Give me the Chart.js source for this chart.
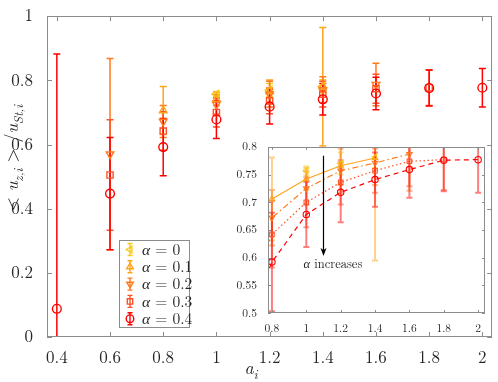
<!DOCTYPE html>
<html>
<head>
<meta charset="utf-8">
<script src="https://cdn.jsdelivr.net/npm/chart.js@4/dist/chart.umd.min.js"></script>
<style>
body { margin: 0; background: #fff; }
#wrap { position: relative; width: 498px; height: 382px; }
#main { position: absolute; left: 0; top: 0; }
#inset { position: absolute; left: 236px; top: 137px; }
</style>
</head>
<body>
<div id="wrap">
  <canvas id="main" width="498" height="382"></canvas>
  <canvas id="inset" width="256" height="200"></canvas>
</div>
<script>
// ---- data ----
const alphaLabels = ['0', '0.1', '0.2', '0.3', '0.4'];

// alpha = 0
const xA0 = [1.0, 1.2, 1.4];
const yA0 = [0.757, 0.770, 0.782];
const eA0 = [0.008, 0.02, 0.02];
// alpha = 0.1
const xA1 = [0.8, 1.0, 1.2, 1.4];
const yA1 = [0.706, 0.742, 0.766, 0.780];
const eA1 = [0.075, 0.02, 0.035, 0.185];
// alpha = 0.2
const xA2 = [0.6, 0.8, 1.0, 1.2, 1.4, 1.6];
const yA2 = [0.570, 0.672, 0.725, 0.757, 0.771, 0.787];
const eA2 = [0.298, 0.05, 0.03, 0.04, 0.04, 0.066];
// alpha = 0.3
const xA3 = [0.6, 0.8, 1.0, 1.2, 1.4, 1.6, 1.8];
const yA3 = [0.505, 0.642, 0.700, 0.736, 0.757, 0.774, 0.777];
const eA3 = [0.172, 0.06, 0.045, 0.04, 0.04, 0.045, 0.055];
// alpha = 0.4
const xA4 = [0.4, 0.6, 0.8, 1.0, 1.2, 1.4, 1.6, 1.8, 2.0];
const yA4 = [0.088, 0.447, 0.592, 0.678, 0.718, 0.741, 0.759, 0.776, 0.777];
const eA4 = [0.794, 0.175, 0.089, 0.059, 0.054, 0.049, 0.051, 0.056, 0.06];

// tick labels
const xTicksMain = [0.4, 0.6, 0.8, 1, 1.2, 1.4, 1.6, 1.8, 2];
const yTicksMain = [0, 0.2, 0.4, 0.6, 0.8, 1];
const xTicksInset = [0.8, 1, 1.2, 1.4, 1.6, 1.8, 2];
const yTicksInset = [0.5, 0.55, 0.6, 0.65, 0.7, 0.75, 0.8];

// ---- styles ----
const FONT = '"Latin Modern Roman"';
const COLORS = ['#F8C81A', '#FFA31C', '#FF7A1E', '#FF5226', '#FF0000'];
const MARKERS = [
    { style: 'triangle', rot: -90 },
    { style: 'triangle', rot: 0 },
    { style: 'triangle', rot: 180 },
    { style: 'rect', rot: 0 },
    { style: 'circle', rot: 0 }
];
const DASHES = [[], [], [6, 3, 1.5, 3], [1.5, 2.5], [5, 4]];
const AXIS_COLOR = '#8c8c8c';
const TEXT_COLOR = '#262626';

const series = [
    { x: xA0, y: yA0, e: eA0 },
    { x: xA1, y: yA1, e: eA1 },
    { x: xA2, y: yA2, e: eA2 },
    { x: xA3, y: yA3, e: eA3 },
    { x: xA4, y: yA4, e: eA4 }
];

function makeDatasets(inset) {
    return series.map((s, k) => ({
        label: 'α = ' + alphaLabels[k],
        data: s.x.map((v, i) => ({ x: v, y: s.y[i] })),
        errors: s.e,
        errColor: COLORS[k],
        borderColor: COLORS[k],
        backgroundColor: 'rgba(0,0,0,0)',
        pointStyle: MARKERS[k].style,
        rotation: MARKERS[k].rot,
        pointRadius: inset ? 3.2 : 4.4,
        pointBorderWidth: inset ? 1.1 : 1.4,
        showLine: inset && k > 0,
        borderDash: DASHES[k],
        borderWidth: 1.2,
        order: 4 - k
    }));
}

function fmt(v) {
    return String(+Number(v).toFixed(2));
}

// draw text with italic / subscript parts
function drawMath(ctx, parts, x, y, size, align) {
    const fontOf = p => (p.it ? 'italic ' : '') + (p.sub ? size * 0.7 : size) + 'px ' + FONT;
    let w = 0;
    parts.forEach(p => { ctx.font = fontOf(p); w += ctx.measureText(p.t).width; });
    let cx = align === 'center' ? x - w / 2 : x;
    ctx.textAlign = 'left';
    parts.forEach(p => {
        ctx.font = fontOf(p);
        ctx.fillText(p.t, cx, y + (p.sub ? size * 0.28 : 0));
        cx += ctx.measureText(p.t).width;
    });
}

function drawMarker(ctx, style, rot, x, y, r) {
    ctx.beginPath();
    if (style === 'circle') {
        ctx.arc(x, y, r, 0, Math.PI * 2);
    } else if (style === 'rect') {
        const s = r * Math.SQRT1_2;
        ctx.rect(x - s, y - s, 2 * s, 2 * s);
    } else {
        let a = rot * Math.PI / 180;
        ctx.moveTo(x + Math.sin(a) * r, y - Math.cos(a) * r);
        for (let k = 1; k < 3; k++) {
            a += 2 * Math.PI / 3;
            ctx.lineTo(x + Math.sin(a) * r, y - Math.cos(a) * r);
        }
        ctx.closePath();
    }
    ctx.stroke();
}

// ---- plugins ----
const whiteArea = {
    id: 'whiteArea',
    beforeDraw(chart) {
        const a = chart.chartArea;
        chart.ctx.save();
        chart.ctx.fillStyle = '#fff';
        chart.ctx.fillRect(a.left, a.top, a.width, a.height);
        chart.ctx.restore();
    }
};

const errorBars = {
    id: 'errorBars',
    beforeDatasetsDraw(chart, args, o) {
        const { ctx, chartArea: a, scales: { x, y } } = chart;
        ctx.save();
        ctx.beginPath();
        ctx.rect(a.left, a.top, a.width, a.height);
        ctx.clip();
        ctx.lineWidth = o.width;
        ctx.globalAlpha = o.alpha;
        chart.data.datasets.forEach(ds => {
            ctx.strokeStyle = ds.errColor;
            ds.data.forEach((p, i) => {
                const e = ds.errors[i];
                const px = x.getPixelForValue(p.x);
                const lo = y.getPixelForValue(p.y - e);
                const hi = y.getPixelForValue(p.y + e);
                ctx.beginPath();
                ctx.moveTo(px, lo); ctx.lineTo(px, hi);
                ctx.moveTo(px - o.cap, lo); ctx.lineTo(px + o.cap, lo);
                ctx.moveTo(px - o.cap, hi); ctx.lineTo(px + o.cap, hi);
                ctx.stroke();
            });
        });
        ctx.restore();
    }
};

const boxAxes = {
    id: 'boxAxes',
    afterDatasetsDraw(chart, args, o) {
        const { ctx, chartArea: a, scales: { x, y } } = chart;
        ctx.save();
        ctx.strokeStyle = AXIS_COLOR;
        ctx.lineWidth = 1;
        ctx.strokeRect(Math.round(a.left) + 0.5, Math.round(a.top) + 0.5,
            Math.round(a.width) - 1, Math.round(a.height) - 1);
        ctx.beginPath();
        x.ticks.forEach(t => {
            const px = Math.round(x.getPixelForValue(t.value)) + 0.5;
            ctx.moveTo(px, a.bottom); ctx.lineTo(px, a.bottom - o.len);
            ctx.moveTo(px, a.top); ctx.lineTo(px, a.top + o.len);
        });
        y.ticks.forEach(t => {
            const py = Math.round(y.getPixelForValue(t.value)) + 0.5;
            ctx.moveTo(a.left, py); ctx.lineTo(a.left + o.len, py);
            ctx.moveTo(a.right, py); ctx.lineTo(a.right - o.len, py);
        });
        ctx.stroke();
        ctx.restore();
    }
};

const mainDecor = {
    id: 'mainDecor',
    afterDraw(chart) {
        const ctx = chart.ctx;
        ctx.save();
        ctx.fillStyle = TEXT_COLOR;
        ctx.textBaseline = 'alphabetic';
        // x label
        drawMath(ctx, [{ t: 'a', it: true }, { t: 'i', it: true, sub: true }], 251, 374, 18, 'center');
        // y label
        ctx.save();
        ctx.translate(18, 158);
        ctx.rotate(-Math.PI / 2);
        drawMath(ctx, [
            { t: '< ' }, { t: 'u', it: true }, { t: 'z,i', it: true, sub: true },
            { t: ' > /' }, { t: 'u', it: true }, { t: 'St,i', it: true, sub: true }
        ], 0, 0, 18, 'center');
        ctx.restore();

        // legend
        const L = 119.5, T = 240.5, W = 70, H = 87;
        ctx.fillStyle = '#fff';
        ctx.fillRect(L, T, W, H);
        ctx.strokeStyle = AXIS_COLOR;
        ctx.lineWidth = 1;
        ctx.strokeRect(L, T, W, H);
        alphaLabels.forEach((lab, k) => {
            const cy = 249.5 + k * 17.3;
            const mx = 130;
            ctx.strokeStyle = COLORS[k];
            ctx.lineWidth = 1.4;
            ctx.beginPath();
            ctx.moveTo(mx, cy - 6); ctx.lineTo(mx, cy + 6);
            ctx.moveTo(mx - 2.5, cy - 6); ctx.lineTo(mx + 2.5, cy - 6);
            ctx.moveTo(mx - 2.5, cy + 6); ctx.lineTo(mx + 2.5, cy + 6);
            ctx.stroke();
            drawMarker(ctx, MARKERS[k].style, MARKERS[k].rot, mx, cy, 3.8);
            ctx.fillStyle = TEXT_COLOR;
            ctx.textBaseline = 'middle';
            drawMath(ctx, [{ t: 'α', it: true }, { t: ' = ' + lab }], 142, cy + 0.5, 15.5, 'left');
        });
        ctx.restore();
    }
};

// annotation in inset: arrow + text
const ARROW_X = 1.1, ARROW_TOP = 0.784, ARROW_END = 0.603;
const NOTE_X = 1.155, NOTE_Y = 0.589;
const insetDecor = {
    id: 'insetDecor',
    afterDatasetsDraw(chart) {
        const { ctx, scales: { x, y } } = chart;
        const px = Math.round(x.getPixelForValue(ARROW_X)) + 0.5;
        const top = y.getPixelForValue(ARROW_TOP);
        const end = y.getPixelForValue(ARROW_END);
        ctx.save();
        ctx.strokeStyle = '#000';
        ctx.fillStyle = '#000';
        ctx.lineWidth = 1.2;
        ctx.beginPath();
        ctx.moveTo(px, top); ctx.lineTo(px, end - 6);
        ctx.stroke();
        ctx.beginPath();
        ctx.moveTo(px, end); ctx.lineTo(px - 3, end - 8); ctx.lineTo(px, end - 6); ctx.lineTo(px + 3, end - 8);
        ctx.closePath();
        ctx.fill();
        ctx.textBaseline = 'middle';
        ctx.fillStyle = TEXT_COLOR;
        drawMath(ctx, [{ t: 'α', it: true }, { t: ' increases' }], x.getPixelForValue(NOTE_X), y.getPixelForValue(NOTE_Y), 12.5, 'center');
        ctx.restore();
    }
};

function axisOpts(min, max, ticks, size, pad, fit) {
    return {
        type: 'linear',
        min: min,
        max: max,
        afterBuildTicks: s => { s.ticks = ticks.map(v => ({ value: v })); },
        afterFit: fit,
        grid: { display: false },
        border: { display: false },
        ticks: {
            font: { family: FONT, size: size },
            color: TEXT_COLOR,
            padding: pad,
            autoSkip: false,
            maxRotation: 0,
            callback: fmt
        }
    };
}

function build() {
    // ---- main chart ----
    new Chart(document.getElementById('main').getContext('2d'), {
        type: 'scatter',
        data: { datasets: makeDatasets(false) },
        plugins: [errorBars, boxAxes, mainDecor],
        options: {
            responsive: false,
            animation: false,
            layout: { padding: { top: 9, right: 1, left: 0, bottom: 0 } },
            plugins: {
                legend: { display: false },
                tooltip: { enabled: false },
                errorBars: { width: 1.5, alpha: 1, cap: 3.5 },
                boxAxes: { len: 5 }
            },
            scales: {
                x: axisOpts(0.363, 2.037, xTicksMain, 17, 3, s => { s.height = 45; }),
                y: axisOpts(0, 1, yTicksMain, 17, 6, s => { s.width = 47; })
            }
        }
    });

    // ---- inset chart ----
    new Chart(document.getElementById('inset').getContext('2d'), {
        type: 'scatter',
        data: { datasets: makeDatasets(true) },
        plugins: [whiteArea, errorBars, boxAxes, insetDecor],
        options: {
            responsive: false,
            animation: false,
            layout: { padding: { top: 8, right: 7, left: 0, bottom: 0 } },
            plugins: {
                legend: { display: false },
                tooltip: { enabled: false },
                errorBars: { width: 2, alpha: 0.5, cap: 3 },
                boxAxes: { len: 3 }
            },
            scales: {
                x: axisOpts(0.777, 2.04, xTicksInset, 11.5, 1, s => { s.height = 24; }),
                y: axisOpts(0.5, 0.8, yTicksInset, 11.5, 3, s => { s.width = 32; })
            }
        }
    });
}

Promise.all([
    document.fonts.load('16px "Latin Modern Roman"'),
    document.fonts.load('italic 16px "Latin Modern Roman"')
]).catch(() => {}).then(build);
</script>
</body>
</html>
